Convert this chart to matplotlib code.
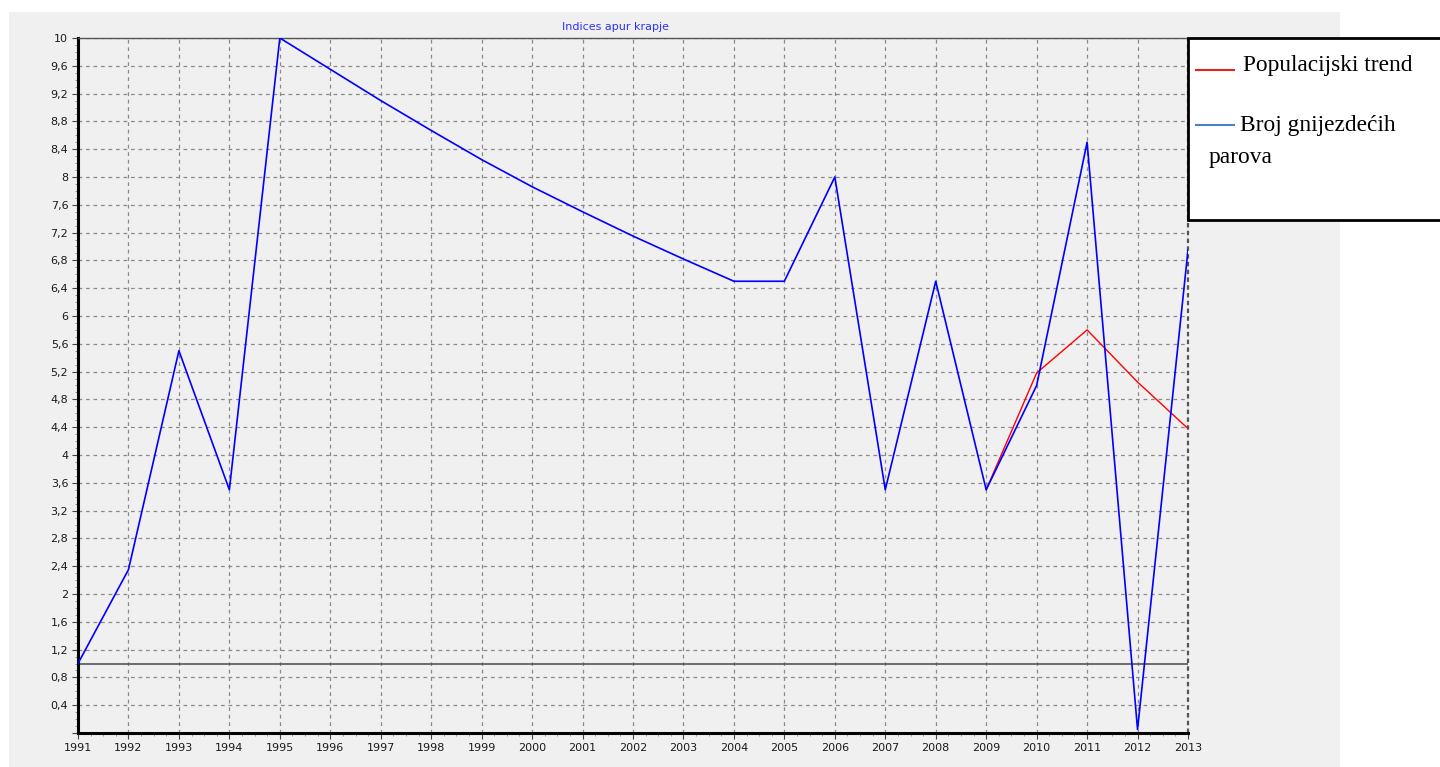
import matplotlib.pyplot as plt
import numpy as np
from matplotlib.patches import Rectangle
from matplotlib.lines import Line2D
from matplotlib.ticker import MultipleLocator, FuncFormatter

years = list(range(1991, 2014))
parovi = [1.0, 2.35, 5.5, 3.5, 10.0, 9.55, 9.1, 8.67, 8.25, 7.86, 7.5, 7.15, 6.82, 6.5,
          6.5, 8.0, 3.5, 6.5, 3.5, 5.0, 8.5, 0.05, 6.95]
trend_years = [2009, 2010, 2011, 2012, 2013]
trend = [3.5, 5.18, 5.8, 5.05, 4.38]
baseline = 1.0

bg = "#f0f0f0"
fig = plt.figure(figsize=(14.4, 7.67), dpi=100, facecolor="white")
# grey panel behind the chart
fig.patches.append(Rectangle((9 / 1440, 0), (1340 - 9) / 1440, 1 - 12 / 767,
                             transform=fig.transFigure, facecolor=bg, edgecolor="none", zorder=-5))

ax = fig.add_axes([78 / 1440, 34 / 767, 1110 / 1440, 695 / 767])
ax.set_zorder(1)
ax.set_facecolor(bg)

ax.plot(years, parovi, color="#0000ff", lw=1.2, zorder=4)
ax.plot(trend_years, trend, color="#ff0000", lw=1.0, zorder=3)
ax.axhline(baseline, color="#555555", lw=1.2, zorder=2)

ax.set_xlim(1991, 2013)
ax.set_ylim(0, 10)
ax.xaxis.set_major_locator(MultipleLocator(1))
ax.xaxis.set_minor_locator(MultipleLocator(0.25))
ax.yaxis.set_major_locator(MultipleLocator(0.4))
ax.yaxis.set_minor_locator(MultipleLocator(0.1))
ax.yaxis.set_major_formatter(FuncFormatter(
    lambda v, p: "" if abs(v) < 1e-9 else ("%g" % round(v, 1)).replace(".", ",")))
ax.xaxis.set_major_formatter(FuncFormatter(lambda v, p: "%d" % round(v)))

ax.grid(True, which="major", color="#8a8a8a", ls=(0, (3, 3)), lw=0.9)
ax.tick_params(which="major", length=4, width=0.8, color="#444444", labelsize=8,
               labelcolor="#1a1a1a", pad=3)
ax.tick_params(which="minor", length=2, width=0.6, color="#888888")

for s in ["left", "bottom"]:
    ax.spines[s].set_linewidth(2.2)
    ax.spines[s].set_color("black")
ax.spines["top"].set_color("#555555")
ax.spines["top"].set_linewidth(1.0)
ax.spines["right"].set_visible(False)
# dotted right border
ax.axvline(2013, color="#555555", ls=(0, (2, 1.5)), lw=1.6, clip_on=False, zorder=2)

fig.text(615 / 1440, 1 - 27 / 767, "Indices apur krapje", color="#3030ff", fontsize=8,
         ha="center", va="center")

# legend box
fig.patches.append(Rectangle((1188 / 1440, 1 - 220 / 767), 260 / 1440, 182 / 767,
                             transform=fig.transFigure, facecolor="white",
                             edgecolor="black", lw=2, zorder=5, clip_on=False))
fig.lines.append(Line2D([1196 / 1440, 1234 / 1440], [1 - 70 / 767, 1 - 70 / 767],
                        transform=fig.transFigure, color="#e82020", lw=1.5, zorder=6))
fig.lines.append(Line2D([1196 / 1440, 1234 / 1440], [1 - 125 / 767, 1 - 125 / 767],
                        transform=fig.transFigure, color="#4a80c8", lw=1.5, zorder=6))
fig.text(1243 / 1440, 1 - 66 / 767, "Populacijski trend", family="Liberation Serif",
         fontsize=16.8, va="center", ha="left", zorder=7)
fig.text(1240 / 1440, 1 - 126 / 767, "Broj gnijezdećih", family="Liberation Serif",
         fontsize=16.8, va="center", ha="left", zorder=7)
fig.text(1209 / 1440, 1 - 158 / 767, "parova", family="Liberation Serif",
         fontsize=16.8, va="center", ha="left", zorder=7)

fig.savefig("out.png", dpi=100, facecolor="white")
